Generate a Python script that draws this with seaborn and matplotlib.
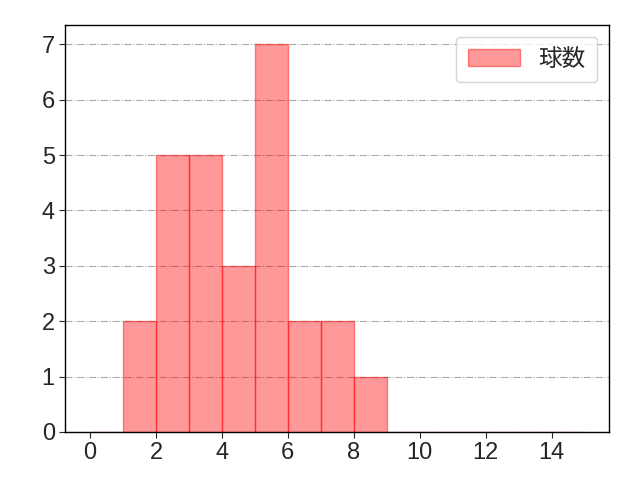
import numpy as np
import seaborn as sns
import matplotlib
matplotlib.use("Agg")
import matplotlib.pyplot as plt

# pitch-count bins (left edge) and how many appearances fell into each
bin_starts = [0, 1, 2, 3, 4, 5, 6, 7, 8, 9, 10, 11, 12, 13, 14]
counts = [0, 2, 5, 5, 3, 7, 2, 2, 1, 0, 0, 0, 0, 0, 0]
bin_edges = list(range(0, 16))
x_ticks = [0, 2, 4, 6, 8, 10, 12, 14]
legend_label = "球数"

sns.set_style("white")
plt.rcParams['font.family'] = ['Liberation Sans', 'Noto Sans CJK JP', 'DejaVu Sans']

fig, ax = plt.subplots(figsize=(6.4, 4.8), dpi=100)
sns.histplot(x=bin_starts, weights=counts, bins=bin_edges, facecolor=(1, 0, 0, 0.4),
             edgecolor=(1, 0, 0, 0.45), linewidth=1, label=legend_label, ax=ax)

ax.set_xticks(x_ticks)
ax.tick_params(axis="both", labelsize=17, length=4, direction="out", left=True, bottom=True)
ax.grid(axis="y", linestyle="-.", color="#aaaaaa", linewidth=0.8)
ax.set_axisbelow(True)
ax.set_xlabel("")
ax.set_ylabel("")
for s in ax.spines.values():
    s.set_color("black")
    s.set_linewidth(1)
ax.legend(loc="upper right", fontsize=17, handlelength=2.2, borderpad=0.5)

fig.subplots_adjust(left=0.102, right=0.952, top=0.948, bottom=0.1)
plt.savefig("out.png", dpi=100)
